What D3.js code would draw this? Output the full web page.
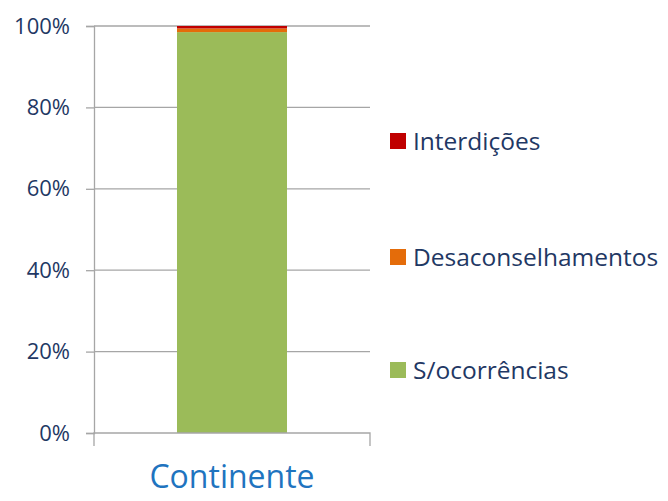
<!DOCTYPE html>
<html>
<head>
<meta charset="utf-8">
<script src="https://d3js.org/d3.v7.min.js"></script>
<style>
 body { margin:0; background:#fff; }
 text { font-family: "Open Sans", "Liberation Sans", sans-serif; }
</style>
</head>
<body>
<div id="chart"></div>
<script>

// data
var regions = ["Continente"];
var series = ["S/ocorrências", "Desaconselhamentos", "Interdições"];
var semOcorrencias = [98.5];
var desaconselhamentos = [0.9];
var interdicoes = [0.6];
var yTicks = [0, 20, 40, 60, 80, 100];
var colors = ["#9BBB59", "#E46C0A", "#C00000"];

var W = 668, H = 501;
var margin = {top: 26, right: 298, bottom: 68, left: 94};
var width = W - margin.left - margin.right;
var height = H - margin.top - margin.bottom;

var svg = d3.select("#chart").append("svg")
  .attr("width", W)
  .attr("height", H);

var g = svg.append("g")
  .attr("transform", "translate(" + margin.left + "," + margin.top + ")");

var x = d3.scaleBand().domain(regions).range([0, width]).padding(0.43);
var y = d3.scaleLinear().domain([0, 100]).range([height, 0]);

//gridlines
g.selectAll(".grid")
  .data(yTicks.filter(function(d){ return d > 0; }))
  .enter().append("line")
  .attr("x1", 0).attr("x2", width)
  .attr("y1", function(d){ return y(d); })
  .attr("y2", function(d){ return y(d); })
  .attr("stroke", "#A6A6A6")
  .attr("stroke-width", 1.3);

//stacked bars
var rows = regions.map(function(r, i){
  return {region: r, "S/ocorrências": semOcorrencias[i], "Desaconselhamentos": desaconselhamentos[i], "Interdições": interdicoes[i]};
});
var stacked = d3.stack().keys(series)(rows);

g.selectAll(".layer")
  .data(stacked)
  .enter().append("g")
  .attr("fill", function(d, i){ return colors[i]; })
  .selectAll("rect")
  .data(function(d){ return d; })
  .enter().append("rect")
  .attr("x", function(d){ return x(d.data.region); })
  .attr("width", x.bandwidth())
  .attr("y", function(d){ return y(d[1]); })
  .attr("height", function(d){ return y(d[0]) - y(d[1]); });

//y axis
var yAxis = g.append("g")
  .call(d3.axisLeft(y).tickValues(yTicks).tickSize(8).tickPadding(16)
    .tickFormat(function(d){ return d + "%"; }));
yAxis.select(".domain").attr("stroke", "#A6A6A6").attr("stroke-width", 1.3);
yAxis.selectAll(".tick line").attr("stroke", "#A6A6A6").attr("stroke-width", 1.3);
yAxis.selectAll(".tick text")
  .attr("fill", "#1F3864")
  .style("font-size", "22px");

//x axis
var xAxis = g.append("g")
  .attr("transform", "translate(0," + height + ")")
  .call(d3.axisBottom(x).tickSize(0).tickPadding(0));
xAxis.select(".domain").remove();
xAxis.append("path")
  .attr("d", "M0,13V0H" + width + "V13")
  .attr("fill", "none")
  .attr("stroke", "#A6A6A6")
  .attr("stroke-width", 1.3);
xAxis.selectAll(".tick text")
  .attr("y", 55)
  .attr("dy", null)
  .attr("fill", "#1F74BF")
  .style("font-size", "32px");

//legend
var legendY = [370, 257, 141];
var legend = svg.selectAll(".legend")
  .data(series)
  .enter().append("g")
  .attr("transform", function(d, i){ return "translate(390," + legendY[i] + ")"; });

legend.append("rect")
  .attr("x", 0).attr("y", -8)
  .attr("width", 16).attr("height", 16)
  .attr("fill", function(d, i){ return colors[i]; });

legend.append("text")
  .attr("x", 23).attr("y", 0)
  .attr("dy", "0.35em")
  .attr("fill", "#1F3864")
  .style("font-size", "24.5px")
  .text(function(d){ return d; });

</script>
</body>
</html>
